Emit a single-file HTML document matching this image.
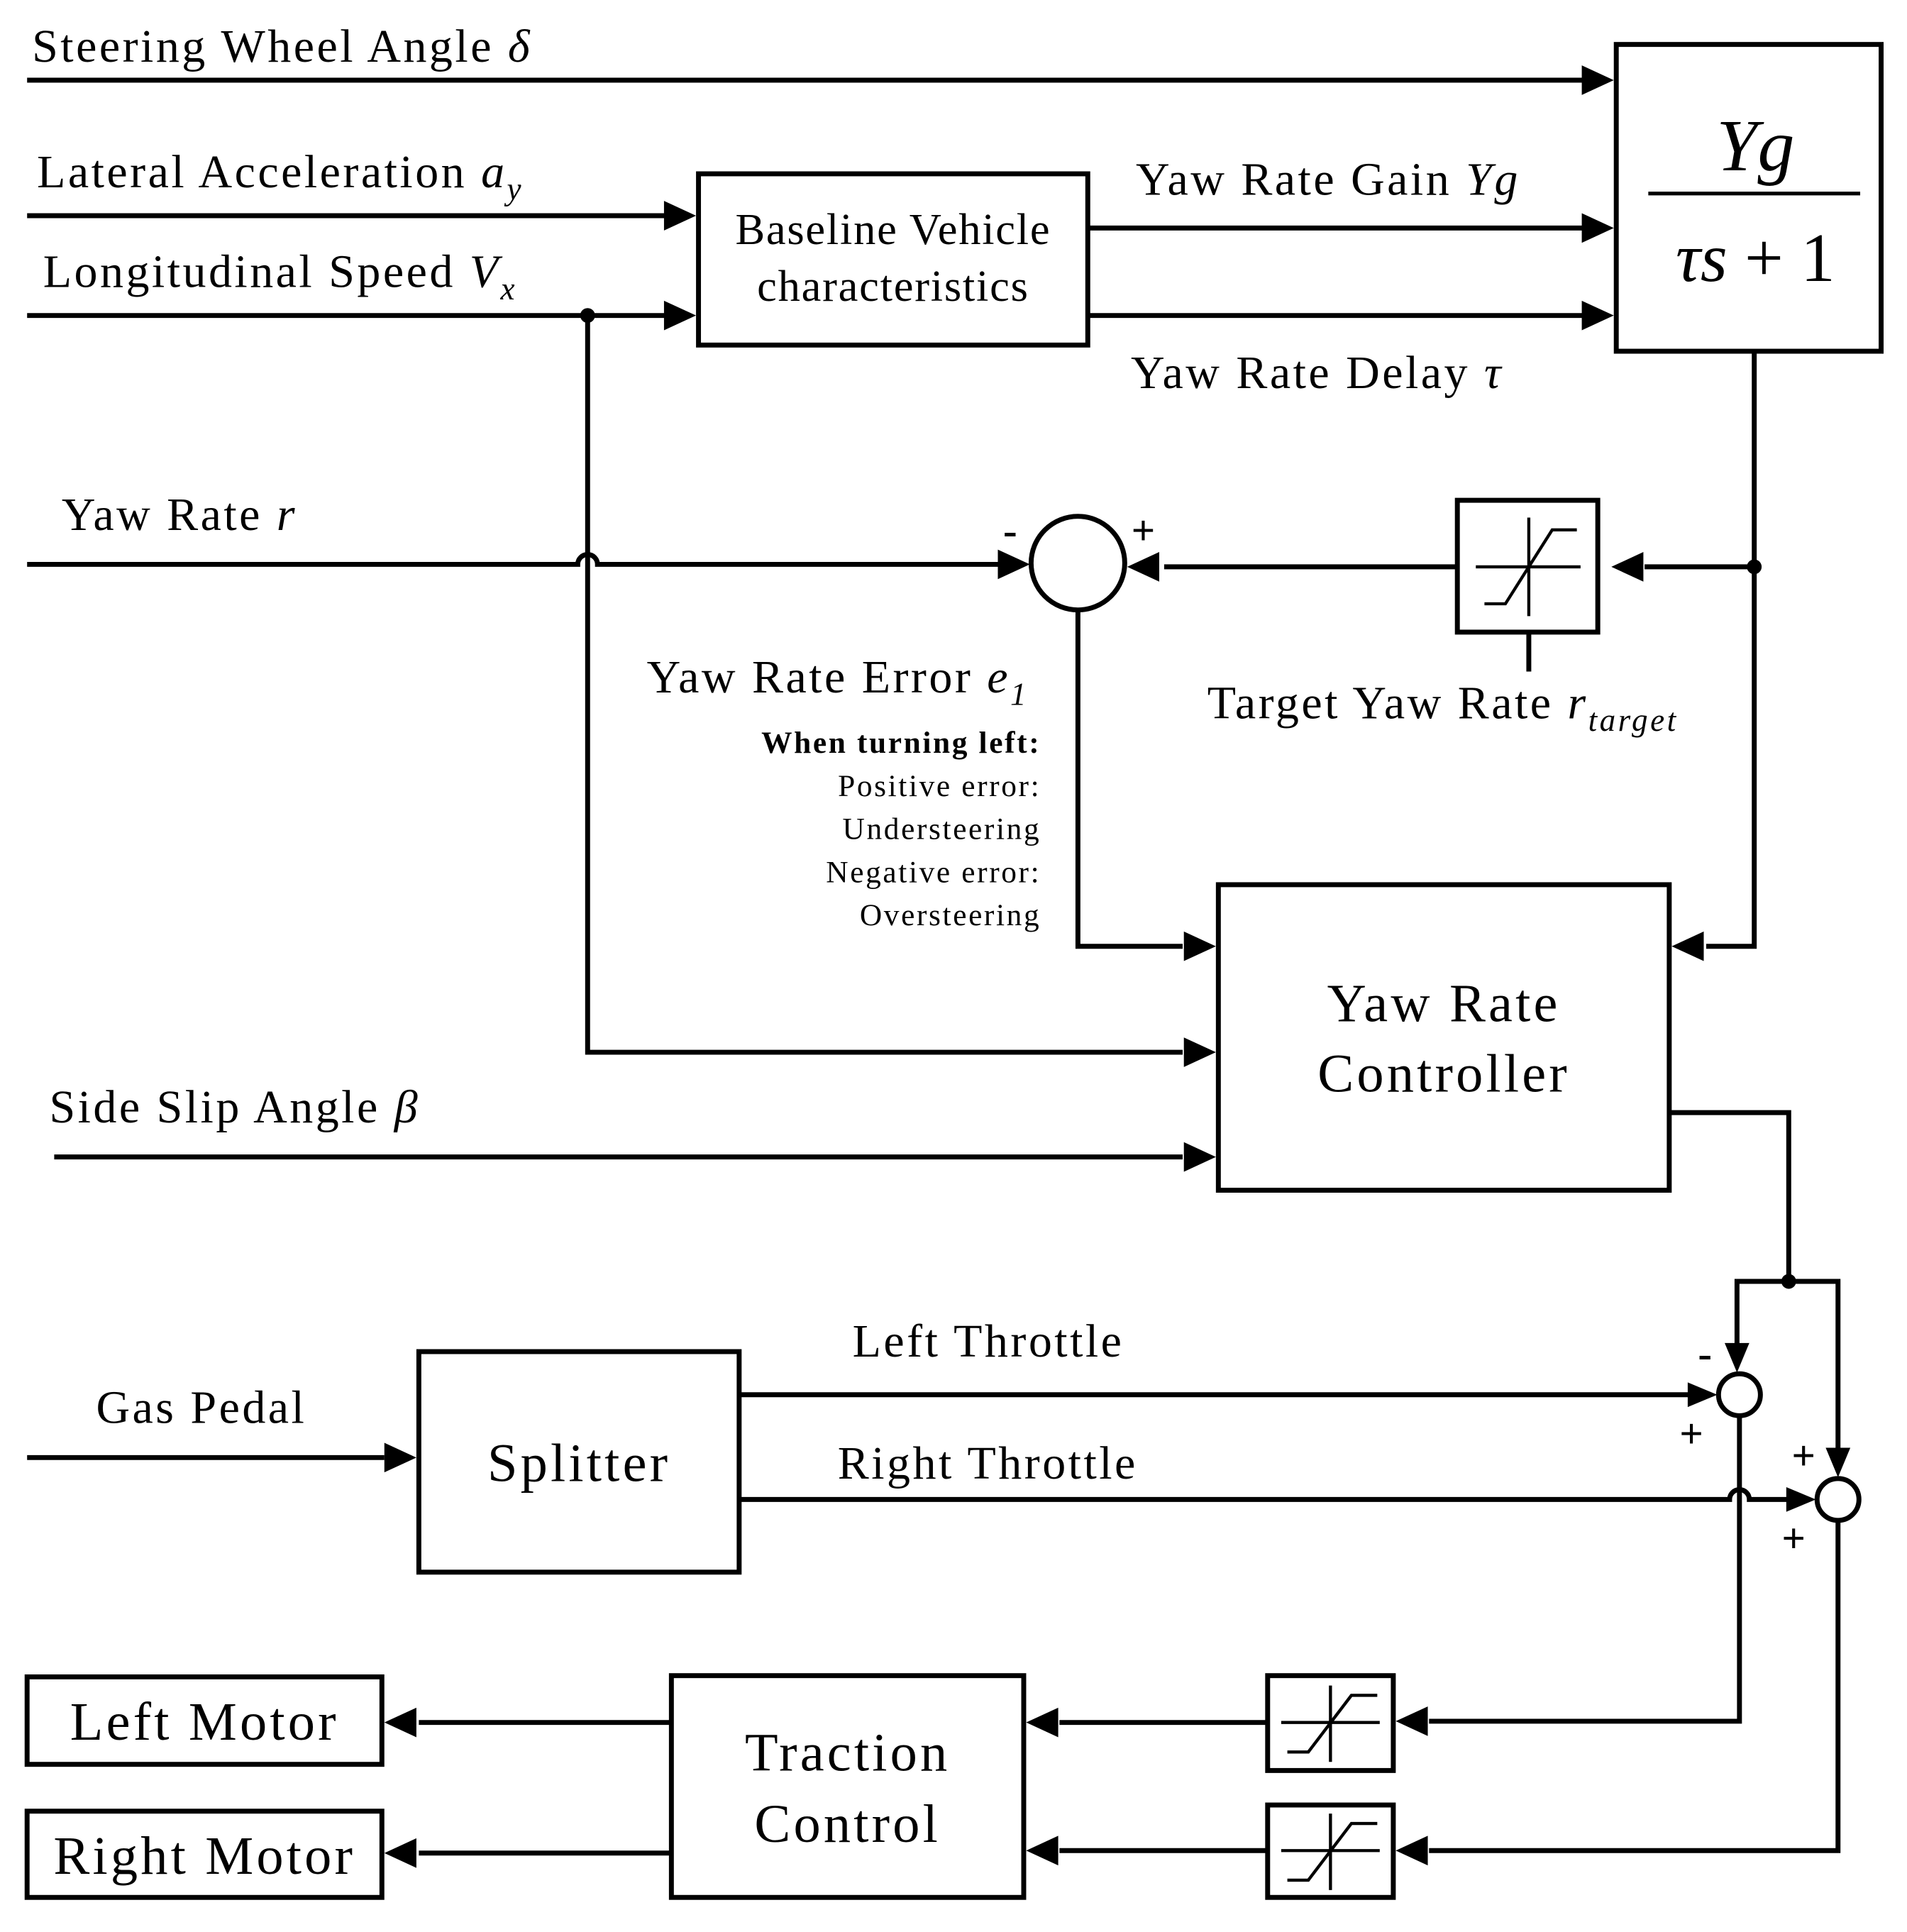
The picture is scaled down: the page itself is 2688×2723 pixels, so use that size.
<!DOCTYPE html>
<html><head><meta charset="utf-8"><style>
html,body{margin:0;padding:0;background:#fff}
svg{display:block}
text{font-family:"Liberation Serif",serif;fill:#000}
</style></head><body>
<svg width="2688" height="2723" viewBox="0 0 1548 1568" xmlns="http://www.w3.org/2000/svg">
<g fill="none" stroke="#000" stroke-width="4">
<rect x="1312" y="36" width="215" height="249"/>
<rect x="567" y="141" width="316" height="139"/>
<rect x="1183" y="406" width="114" height="107"/>
<circle cx="875" cy="457" r="38"/>
<rect x="989" y="718" width="366" height="248"/>
<rect x="340" y="1097" width="260" height="179"/>
<circle cx="1412" cy="1132" r="17"/>
<circle cx="1492" cy="1217" r="17"/>
<rect x="1029" y="1360" width="102" height="77"/>
<rect x="1029" y="1465" width="102" height="75"/>
<rect x="545" y="1360" width="286" height="180"/>
<rect x="22" y="1361" width="288" height="71"/>
<rect x="22" y="1470" width="288" height="70"/>
<path d="M22 65H1285"/>
<path d="M22 175H540"/>
<path d="M22 256H540"/>
<path d="M883 185H1285"/>
<path d="M883 256H1285"/>
<path d="M1424 285V768H1385"/>
<path d="M1424 460H1335"/>
<path d="M1183 460H945"/>
<path d="M22 458H469a8 8 0 0 1 16 0H810"/>
<path d="M477 256V854H960"/>
<path d="M875 495V768H960"/>
<path d="M44 939H960"/>
<path d="M1355 903H1452V1040H1410V1092"/>
<path d="M1452 1040H1492V1177"/>
<path d="M22 1183H312"/>
<path d="M600 1132H1372"/>
<path d="M600 1217H1404a8 8 0 0 1 16 0H1452"/>
<path d="M1412 1149V1397H1160"/>
<path d="M1492 1234V1502H1160"/>
<path d="M1029 1398H860"/>
<path d="M1029 1502H860"/>
<path d="M545 1398H340"/>
<path d="M545 1504H340"/>
<path d="M1241 513V545"/>
<path d="M1338 157H1510" stroke-width="3"/>
<g stroke-width="2.5">
<path d="M1198 460H1283M1241 420V500M1205 490H1222L1260 430H1280"/>
<path d="M1040 1398H1120M1080 1368V1430M1045 1422H1062L1097 1376H1118"/>
<path d="M1040 1502H1120M1080 1472V1534M1045 1526H1062L1097 1480H1118"/>
</g>
</g>
<g fill="#000">
<path d="M1310 65l-26-12v24z"/>
<path d="M565 175l-26-12v24z"/>
<path d="M565 256l-26-12v24z"/>
<path d="M1310 185l-26-12v24z"/>
<path d="M1310 256l-26-12v24z"/>
<path d="M1357 768l26-12v24z"/>
<path d="M1308 460l26-12v24z"/>
<path d="M915 460l26-12v24z"/>
<path d="M836 458l-26-12v24z"/>
<path d="M987 854l-26-12v24z"/>
<path d="M987 768l-26-12v24z"/>
<path d="M987 939l-26-12v24z"/>
<path d="M1410 1114l-10-24h20z"/>
<path d="M1492 1199l-10-24h20z"/>
<path d="M338 1183l-26-12v24z"/>
<path d="M1394 1132l-24-10v20z"/>
<path d="M1474 1217l-24-10v20z"/>
<path d="M1133 1397l26-12v24z"/>
<path d="M1133 1502l26-12v24z"/>
<path d="M833 1398l26-12v24z"/>
<path d="M833 1502l26-12v24z"/>
<path d="M312 1398l26-12v24z"/>
<path d="M312 1504l26-12v24z"/>
<circle cx="477" cy="256" r="6"/>
<circle cx="1424" cy="460" r="6"/>
<circle cx="1452" cy="1040" r="6"/>
</g>
<g font-size="38" letter-spacing="2">
<text x="26" y="50">Steering Wheel Angle <tspan font-style="italic">δ</tspan></text>
<text x="30" y="152">Lateral Acceleration <tspan font-style="italic">a<tspan font-size="26" dy="10">y</tspan></tspan></text>
<text x="35" y="233">Longitudinal Speed <tspan font-style="italic">V<tspan font-size="26" dy="10">x</tspan></tspan></text>
<text x="922" y="158">Yaw Rate Gain <tspan font-style="italic">Yg</tspan></text>
<text x="918" y="315">Yaw Rate Delay <tspan font-style="italic">τ</tspan></text>
<text x="50" y="430">Yaw Rate <tspan font-style="italic">r</tspan></text>
<text x="525" y="562">Yaw Rate Error <tspan font-style="italic">e<tspan font-size="26" dy="10">1</tspan></tspan></text>
<text x="980" y="583">Target Yaw Rate <tspan font-style="italic">r<tspan font-size="26" dy="10">target</tspan></tspan></text>
<text x="40" y="911">Side Slip Angle <tspan font-style="italic">β</tspan></text>
<text x="692" y="1101">Left Throttle</text>
<text x="680" y="1200">Right Throttle</text>
<text x="78" y="1155">Gas Pedal</text>
</g>
<g font-size="36" text-anchor="middle" letter-spacing="1">
<text x="725" y="198">Baseline Vehicle</text>
<text x="725" y="244">characteristics</text>
</g>
<g font-size="44" text-anchor="middle" letter-spacing="2.4">
<text x="1172" y="829">Yaw Rate</text>
<text x="1172" y="886">Controller</text>
<text x="470" y="1202">Splitter</text>
<text x="688" y="1437">Traction</text>
<text x="688" y="1495">Control</text>
<text x="166" y="1412">Left Motor</text>
<text x="166" y="1521">Right Motor</text>
</g>
<g text-anchor="middle">
<text x="1425" y="138" font-size="60" font-style="italic">Yg</text>
<text x="1425" y="228" font-size="56"><tspan font-style="italic">τs</tspan> + 1</text>
</g>
<g font-size="25" text-anchor="end" letter-spacing="1.5">
<text x="845" y="611" font-weight="bold">When turning left:</text>
<text x="845" y="646">Positive error:</text>
<text x="845" y="681">Understeering</text>
<text x="845" y="716">Negative error:</text>
<text x="845" y="751">Oversteering</text>
</g>
<g font-size="34" font-weight="bold" text-anchor="middle">
<text x="820" y="442">-</text>
<text x="928" y="442">+</text>
<text x="1384" y="1110">-</text>
<text x="1373" y="1175">+</text>
<text x="1464" y="1193">+</text>
<text x="1456" y="1260">+</text>
</g>
</svg>
</body></html>
